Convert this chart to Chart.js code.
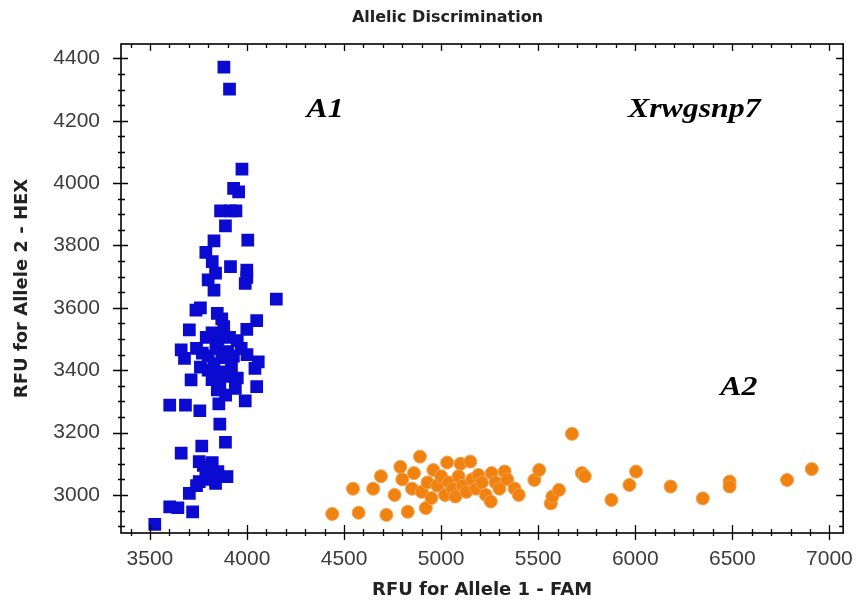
<!DOCTYPE html>
<html>
<head>
<meta charset="utf-8">
<title>Allelic Discrimination</title>
<script src="https://cdn.jsdelivr.net/npm/chart.js@4.4.1/dist/chart.umd.min.js"></script>
<style>
  html, body { margin: 0; padding: 0; background: #fff; }
  #wrap { width: 867px; height: 607px; position: relative; }
</style>
</head>
<body>
<div id="wrap"><canvas id="chart"></canvas></div>
<script>
// ── data ───────────────────────────────────────────────────────────────────
const A1_X = [3881, 3910, 3974, 3931, 3957, 3864, 3915, 3943, 3889, 3830, 4004, 3788, 3821, 3915, 3999,
  3838, 3800, 3999, 3830, 3991, 4151, 3737, 3760, 3847, 3870, 4050, 3703, 3999, 3880, 3820, 3790, 3850,
  3910, 3950, 3661, 3678, 3740, 3770, 3800, 3840, 3870, 3900, 3930, 3970, 4000, 4058, 4041, 3712, 3760,
  3800, 3830, 3860, 3890, 3920, 3820, 3860, 3950, 4050, 3991, 3940, 3847, 3890, 3602, 3683, 3757, 3855,
  3860, 3889, 3767, 3661, 3754, 3821, 3788, 3897, 3754, 3838, 3703, 3602, 3644, 3720, 3525, 3800, 3850,
  3775, 3810, 3740]
const A1_Y = [4372, 4301, 4045, 3983, 3972, 3911, 3911, 3911, 3863, 3815, 3817, 3778, 3748, 3732, 3721,
  3711, 3690, 3698, 3657, 3678, 3628, 3593, 3600, 3582, 3565, 3559, 3529, 3531, 3540, 3520, 3505, 3500,
  3505, 3495, 3465, 3438, 3470, 3455, 3445, 3470, 3440, 3460, 3445, 3470, 3450, 3427, 3406, 3369, 3410,
  3400, 3420, 3395, 3380, 3410, 3370, 3360, 3375, 3347, 3302, 3342, 3337, 3320, 3288, 3288, 3270, 3292,
  3227, 3169, 3157, 3134, 3107, 3104, 3070, 3059, 3043, 3037, 3005, 2962, 2959, 2946, 2906, 3085, 3075,
  3095, 3050, 3030]

const A2_X = [4439, 4575, 4546, 4650, 4690, 4718, 4760, 4790, 4800, 4828, 4850, 4860, 4891, 4900, 4921,
  4930, 4950, 4960, 4980, 5000, 5020, 5031, 5040, 5060, 5074, 5090, 5100, 5110, 5130, 5150, 5160, 5180,
  5192, 5210, 5230, 5256, 5260, 5280, 5300, 5327, 5340, 5378, 5400, 5480, 5505, 5565, 5573, 5607, 5674,
  5725, 5740, 5877, 5970, 6004, 6182, 6348, 6486, 6486, 6782, 6909]
const A2_Y = [2939, 2943, 3020, 3020, 3060, 2936, 3000, 3090, 3050, 2946, 3020, 3070, 3123, 3010, 2958,
  3040, 2990, 3080, 3030, 3060, 3000, 3104, 3040, 3020, 2995, 3060, 3100, 3030, 3010, 3107, 3050, 3020,
  3064, 3040, 3000, 2979, 3070, 3040, 3020, 3075, 3050, 3021, 3000, 3048, 3080, 2973, 2995, 3016, 3196,
  3070, 3060, 2984, 3032, 3075, 3027, 2989, 3043, 3027, 3048, 3083]

const X_TICKS = [3500, 4000, 4500, 5000, 5500, 6000, 6500, 7000]
const Y_TICKS = [3000, 3200, 3400, 3600, 3800, 4000, 4200, 4400]
const X_MINOR = 100
const Y_MINOR = 50

const TITLE = 'Allelic Discrimination'
const LABELS = ['A1', 'Xrwgsnp7', 'A2']
const LABEL_X = [4307, 5962, 6438]
const LABEL_Y = [4234, 4234, 3343]

const toPoints = (xs, ys) => xs.map((x, i) => ({ x, y: ys[i] }))

// ── box + crossing tick marks, drawn from the scales ───────────────────────
const axisTicks = {
  id: 'axisTicks',
  afterDraw(chart) {
    const { ctx, chartArea: a, scales: { x, y } } = chart
    ctx.save()
    ctx.strokeStyle = '#000'
    ctx.lineWidth = 1.6
    ctx.strokeRect(a.left, a.top, a.right - a.left, a.bottom - a.top)
    ctx.lineWidth = 1.3
    ctx.beginPath()
    for (let v = Math.ceil(x.min / X_MINOR) * X_MINOR; v <= x.max; v += X_MINOR) {
      const px = Math.round(x.getPixelForValue(v)) + 0.5
      const major = X_TICKS.includes(v)
      ctx.moveTo(px, a.bottom - (major ? 8 : 4))
      ctx.lineTo(px, a.bottom + (major ? 7 : 3))
      ctx.moveTo(px, a.top)
      ctx.lineTo(px, a.top + (major ? 7 : 4))
    }
    for (let v = Math.ceil(y.min / Y_MINOR) * Y_MINOR; v <= y.max; v += Y_MINOR) {
      const py = Math.round(y.getPixelForValue(v)) + 0.5
      const major = Y_TICKS.includes(v)
      ctx.moveTo(a.left - (major ? 8 : 3), py)
      ctx.lineTo(a.left + (major ? 7 : 4), py)
      ctx.moveTo(a.right, py)
      ctx.lineTo(a.right - (major ? 7 : 4), py)
    }
    ctx.stroke()
    ctx.restore()
  },
}

// ── title + cluster names (the names are placed in data units) ─────────────
const textLayer = {
  id: 'textLayer',
  afterDatasetsDraw(chart) {
    const { ctx, scales: { x, y } } = chart
    ctx.save()
    ctx.fillStyle = '#222'
    ctx.font = 'bold 16px "DejaVu Sans", sans-serif'
    ctx.textAlign = 'center'
    ctx.textBaseline = 'middle'
    ctx.fillText(TITLE, chart.width / 2 + 14, 18)

    ctx.fillStyle = '#000'
    ctx.font = 'italic bold 27px "Liberation Serif", "Times New Roman", serif'
    ctx.textAlign = 'left'
    LABELS.forEach((t, i) => {
      ctx.save()
      ctx.translate(x.getPixelForValue(LABEL_X[i]), y.getPixelForValue(LABEL_Y[i]))
      ctx.scale(1.18, 1)
      ctx.fillText(t, 0, 0)
      ctx.restore()
    })
    ctx.restore()
  },
}

const tickFont = { family: 'Arial, "Liberation Sans", sans-serif', size: 21 }
const titleFont = { family: '"DejaVu Sans", sans-serif', size: 18, weight: 'bold' }

new Chart(document.getElementById('chart'), {
  type: 'scatter',
  data: {
    datasets: [
      {
        label: 'A1',
        data: toPoints(A1_X, A1_Y),
        pointStyle: 'rect',
        pointRadius: 9,
        backgroundColor: '#0a0ad0',
        borderColor: '#0a0ad0',
        borderWidth: 0,
      },
      {
        label: 'A2',
        data: toPoints(A2_X, A2_Y),
        pointStyle: 'circle',
        pointRadius: 6.5,
        backgroundColor: '#f0820f',
        borderColor: '#f5a050',
        borderWidth: 1,
      },
    ],
  },
  options: {
    responsive: true,
    maintainAspectRatio: false,
    animation: false,
    layout: { padding: { left: 0, right: 13, top: 44, bottom: 0 } },
    plugins: {
      legend: { display: false },
      tooltip: { enabled: false },
      title: { display: false },
    },
    scales: {
      x: {
        type: 'linear',
        min: 3351,
        max: 7071,
        grid: { display: false, drawTicks: false },
        border: { display: false },
        afterBuildTicks: (s) => { s.ticks = X_TICKS.map((value) => ({ value })) },
        afterFit: (s) => { s.height = 74 },
        ticks: { color: '#3c3c3c', font: tickFont, padding: 14, maxRotation: 0, callback: (v) => String(v) },
        title: { display: true, text: 'RFU for Allele 1 - FAM', color: '#222', font: titleFont, padding: { top: 0, bottom: 6 } },
      },
      y: {
        type: 'linear',
        min: 2878,
        max: 4446,
        grid: { display: false, drawTicks: false },
        border: { display: false },
        afterBuildTicks: (s) => { s.ticks = Y_TICKS.map((value) => ({ value })) },
        afterFit: (s) => { s.width = 121 },
        ticks: { color: '#3c3c3c', font: tickFont, padding: 21, callback: (v) => String(v) },
        title: { display: true, text: 'RFU for Allele 2 - HEX', color: '#222', font: titleFont, padding: { top: 12, bottom: 0 } },
      },
    },
  },
  plugins: [axisTicks, textLayer],
})
</script>
</body>
</html>
